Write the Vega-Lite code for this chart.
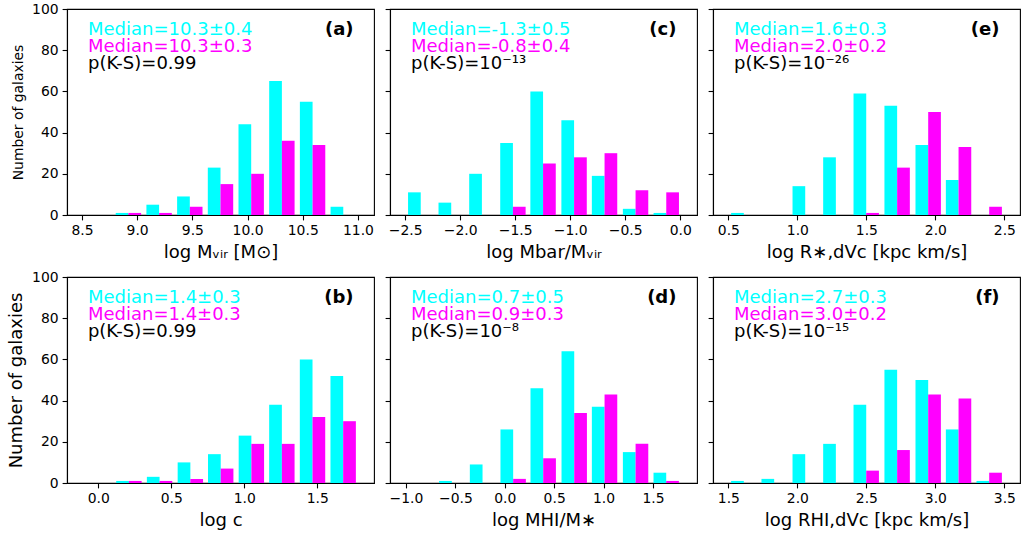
{
"$schema": "https://vega.github.io/schema/vega-lite/v6.json",
"padding": {"left": 7, "top": 1, "right": 0, "bottom": 0},
"background": "white",
"datasets": {
"bars": [
{"panel":"a","g":"A","center":8.643,"n":0},{"panel":"a","g":"A","center":8.921,"n":1},{"panel":"a","g":"A","center":9.199,"n":5},{"panel":"a","g":"A","center":9.477,"n":9},{"panel":"a","g":"A","center":9.755,"n":23},{"panel":"a","g":"A","center":10.033,"n":44},{"panel":"a","g":"A","center":10.311,"n":65},{"panel":"a","g":"A","center":10.589,"n":55},{"panel":"a","g":"A","center":10.867,"n":4},
{"panel":"a","g":"B","center":8.643,"n":0},{"panel":"a","g":"B","center":8.921,"n":1},{"panel":"a","g":"B","center":9.199,"n":1},{"panel":"a","g":"B","center":9.477,"n":4},{"panel":"a","g":"B","center":9.755,"n":15},{"panel":"a","g":"B","center":10.033,"n":20},{"panel":"a","g":"B","center":10.311,"n":36},{"panel":"a","g":"B","center":10.589,"n":34},{"panel":"a","g":"B","center":10.867,"n":0},
{"panel":"c","g":"A","center":-2.359,"n":11},{"panel":"c","g":"A","center":-2.082,"n":6},{"panel":"c","g":"A","center":-1.803,"n":20},{"panel":"c","g":"A","center":-1.521,"n":35},{"panel":"c","g":"A","center":-1.247,"n":60},{"panel":"c","g":"A","center":-0.965,"n":46},{"panel":"c","g":"A","center":-0.688,"n":19},{"panel":"c","g":"A","center":-0.406,"n":3},{"panel":"c","g":"A","center":-0.127,"n":1},
{"panel":"c","g":"B","center":-2.359,"n":0},{"panel":"c","g":"B","center":-2.082,"n":0},{"panel":"c","g":"B","center":-1.803,"n":0},{"panel":"c","g":"B","center":-1.521,"n":4},{"panel":"c","g":"B","center":-1.247,"n":25},{"panel":"c","g":"B","center":-0.965,"n":28},{"panel":"c","g":"B","center":-0.688,"n":30},{"panel":"c","g":"B","center":-0.406,"n":12},{"panel":"c","g":"B","center":-0.127,"n":11},
{"panel":"e","g":"A","center":0.612,"n":1},{"panel":"e","g":"A","center":0.832,"n":0},{"panel":"e","g":"A","center":1.057,"n":14},{"panel":"e","g":"A","center":1.279,"n":28},{"panel":"e","g":"A","center":1.499,"n":59},{"panel":"e","g":"A","center":1.723,"n":53},{"panel":"e","g":"A","center":1.948,"n":34},{"panel":"e","g":"A","center":2.168,"n":17},{"panel":"e","g":"A","center":2.39,"n":0},
{"panel":"e","g":"B","center":0.612,"n":0},{"panel":"e","g":"B","center":0.832,"n":0},{"panel":"e","g":"B","center":1.057,"n":0},{"panel":"e","g":"B","center":1.279,"n":0},{"panel":"e","g":"B","center":1.499,"n":1},{"panel":"e","g":"B","center":1.723,"n":23},{"panel":"e","g":"B","center":1.948,"n":50},{"panel":"e","g":"B","center":2.168,"n":33},{"panel":"e","g":"B","center":2.39,"n":4},
{"panel":"b","g":"A","center":-0.004,"n":0},{"panel":"b","g":"A","center":0.21,"n":1},{"panel":"b","g":"A","center":0.42,"n":3},{"panel":"b","g":"A","center":0.631,"n":10},{"panel":"b","g":"A","center":0.839,"n":14},{"panel":"b","g":"A","center":1.049,"n":23},{"panel":"b","g":"A","center":1.258,"n":38},{"panel":"b","g":"A","center":1.468,"n":60},{"panel":"b","g":"A","center":1.678,"n":52},
{"panel":"b","g":"B","center":-0.004,"n":0},{"panel":"b","g":"B","center":0.21,"n":1},{"panel":"b","g":"B","center":0.42,"n":1},{"panel":"b","g":"B","center":0.631,"n":2},{"panel":"b","g":"B","center":0.839,"n":7},{"panel":"b","g":"B","center":1.049,"n":19},{"panel":"b","g":"B","center":1.258,"n":19},{"panel":"b","g":"B","center":1.468,"n":32},{"panel":"b","g":"B","center":1.678,"n":30},
{"panel":"d","g":"A","center":-0.85,"n":0},{"panel":"d","g":"A","center":-0.536,"n":1},{"panel":"d","g":"A","center":-0.225,"n":9},{"panel":"d","g":"A","center":0.085,"n":26},{"panel":"d","g":"A","center":0.389,"n":46},{"panel":"d","g":"A","center":0.703,"n":64},{"panel":"d","g":"A","center":1.01,"n":37},{"panel":"d","g":"A","center":1.324,"n":15},{"panel":"d","g":"A","center":1.634,"n":5},
{"panel":"d","g":"B","center":-0.85,"n":0},{"panel":"d","g":"B","center":-0.536,"n":0},{"panel":"d","g":"B","center":-0.225,"n":0},{"panel":"d","g":"B","center":0.085,"n":2},{"panel":"d","g":"B","center":0.389,"n":12},{"panel":"d","g":"B","center":0.703,"n":34},{"panel":"d","g":"B","center":1.01,"n":43},{"panel":"d","g":"B","center":1.324,"n":19},{"panel":"d","g":"B","center":1.634,"n":1},
{"panel":"f","g":"A","center":1.612,"n":1},{"panel":"f","g":"A","center":1.832,"n":2},{"panel":"f","g":"A","center":2.057,"n":14},{"panel":"f","g":"A","center":2.279,"n":19},{"panel":"f","g":"A","center":2.499,"n":38},{"panel":"f","g":"A","center":2.723,"n":55},{"panel":"f","g":"A","center":2.948,"n":50},{"panel":"f","g":"A","center":3.168,"n":26},{"panel":"f","g":"A","center":3.39,"n":1},
{"panel":"f","g":"B","center":1.612,"n":0},{"panel":"f","g":"B","center":1.832,"n":0},{"panel":"f","g":"B","center":2.057,"n":0},{"panel":"f","g":"B","center":2.279,"n":0},{"panel":"f","g":"B","center":2.499,"n":6},{"panel":"f","g":"B","center":2.723,"n":16},{"panel":"f","g":"B","center":2.948,"n":43},{"panel":"f","g":"B","center":3.168,"n":41},{"panel":"f","g":"B","center":3.39,"n":5}
],
"notes": [
{"panel":"a","line":1,"text":"Median=10.3±0.4"},{"panel":"a","line":2,"text":"Median=10.3±0.3"},{"panel":"a","line":3,"text":"p(K-S)=0.99"},{"panel":"a","line":4,"text":"(a)"},
{"panel":"c","line":1,"text":"Median=-1.3±0.5"},{"panel":"c","line":2,"text":"Median=-0.8±0.4"},{"panel":"c","line":3,"text":"p(K-S)=10⁻¹³"},{"panel":"c","line":4,"text":"(c)"},
{"panel":"e","line":1,"text":"Median=1.6±0.3"},{"panel":"e","line":2,"text":"Median=2.0±0.2"},{"panel":"e","line":3,"text":"p(K-S)=10⁻²⁶"},{"panel":"e","line":4,"text":"(e)"},
{"panel":"b","line":1,"text":"Median=1.4±0.3"},{"panel":"b","line":2,"text":"Median=1.4±0.3"},{"panel":"b","line":3,"text":"p(K-S)=0.99"},{"panel":"b","line":4,"text":"(b)"},
{"panel":"d","line":1,"text":"Median=0.7±0.5"},{"panel":"d","line":2,"text":"Median=0.9±0.3"},{"panel":"d","line":3,"text":"p(K-S)=10⁻⁸"},{"panel":"d","line":4,"text":"(d)"},
{"panel":"f","line":1,"text":"Median=2.7±0.3"},{"panel":"f","line":2,"text":"Median=3.0±0.2"},{"panel":"f","line":3,"text":"p(K-S)=10⁻¹⁵"},{"panel":"f","line":4,"text":"(f)"}
]
},
"config": {
"view": {"stroke": "black", "strokeWidth": 1.1},
"font": "DejaVu Sans",
"axis": {"grid": false, "domainColor": "black", "domainWidth": 1.1, "tickColor": "black", "tickWidth": 1.1, "tickSize": 4.9, "labelColor": "black", "titleColor": "black", "labelFont": "DejaVu Sans", "titleFont": "DejaVu Sans", "labelFontSize": 13.9, "titleFontSize": 18, "titleFontWeight": "normal", "labelPadding": 4, "labelFlush": false, "labelOverlap": false},
"axisX": {"titlePadding": 6},
"axisY": {"titlePadding": 6},
"text": {"font": "DejaVu Sans", "fontSize": 18}
},
"columns": 3,
"spacing": {"row": 62, "column": 16},
"bounds": "flush",
"concat": [
{"width": 307, "height": 206, "layer": [
{"data": {"name": "bars"}, "transform": [{"filter": "datum.panel == 'a' && datum.g == 'A'"}], "mark": {"type": "bar", "width": 12.7, "xOffset": -6.35, "color": "#00ffff"},
 "encoding": {"x": {"field": "center", "type": "quantitative", "scale": {"domain": [8.41, 11.10], "nice": false, "zero": false}, "axis": {"values": [8.5, 9, 9.5, 10, 10.5, 11], "format": ".1f", "title": "log Mᵥᵢᵣ [M⊙]"}},
  "y": {"field": "n", "type": "quantitative", "scale": {"domain": [0, 100], "nice": false}, "axis": {"values": [0, 20, 40, 60, 80, 100], "title": "Number of galaxies", "titleFontSize": 13.9}}}},
{"data": {"name": "bars"}, "transform": [{"filter": "datum.panel == 'a' && datum.g == 'B'"}], "mark": {"type": "bar", "width": 12.7, "xOffset": 6.35, "color": "#ff00ff"},
 "encoding": {"x": {"field": "center", "type": "quantitative"}, "y": {"field": "n", "type": "quantitative"}}},
{"data": {"name": "notes"}, "transform": [{"filter": "datum.panel == 'a' && datum.line == 1"}], "mark": {"type": "text", "align": "left", "baseline": "alphabetic", "color": "#00ffff"}, "encoding": {"x": {"datum": 8.555, "type": "quantitative"}, "y": {"datum": 87.2, "type": "quantitative"}, "text": {"field": "text"}}},
{"data": {"name": "notes"}, "transform": [{"filter": "datum.panel == 'a' && datum.line == 2"}], "mark": {"type": "text", "align": "left", "baseline": "alphabetic", "color": "#ff00ff"}, "encoding": {"x": {"datum": 8.555, "type": "quantitative"}, "y": {"datum": 79.3, "type": "quantitative"}, "text": {"field": "text"}}},
{"data": {"name": "notes"}, "transform": [{"filter": "datum.panel == 'a' && datum.line == 3"}], "mark": {"type": "text", "align": "left", "baseline": "alphabetic", "color": "black"}, "encoding": {"x": {"datum": 8.555, "type": "quantitative"}, "y": {"datum": 70.7, "type": "quantitative"}, "text": {"field": "text"}}},
{"data": {"name": "notes"}, "transform": [{"filter": "datum.panel == 'a' && datum.line == 4"}], "mark": {"type": "text", "align": "right", "baseline": "alphabetic", "color": "black", "fontWeight": "bold"}, "encoding": {"x": {"datum": 10.96, "type": "quantitative"}, "y": {"datum": 87.2, "type": "quantitative"}, "text": {"field": "text"}}}
]},
{"width": 307, "height": 206, "layer": [
{"data": {"name": "bars"}, "transform": [{"filter": "datum.panel == 'c' && datum.g == 'A'"}], "mark": {"type": "bar", "width": 12.7, "xOffset": -6.35, "color": "#00ffff"},
 "encoding": {"x": {"field": "center", "type": "quantitative", "scale": {"domain": [-2.593, 0.107], "nice": false, "zero": false}, "axis": {"values": [-2.5, -2, -1.5, -1, -0.5, 0], "format": ".1f", "title": "log Mbar/Mᵥᵢᵣ"}},
  "y": {"field": "n", "type": "quantitative", "scale": {"domain": [0, 100], "nice": false}, "axis": {"values": [0, 20, 40, 60, 80, 100], "labels": false, "title": null}}}},
{"data": {"name": "bars"}, "transform": [{"filter": "datum.panel == 'c' && datum.g == 'B'"}], "mark": {"type": "bar", "width": 12.7, "xOffset": 6.35, "color": "#ff00ff"},
 "encoding": {"x": {"field": "center", "type": "quantitative"}, "y": {"field": "n", "type": "quantitative"}}},
{"data": {"name": "notes"}, "transform": [{"filter": "datum.panel == 'c' && datum.line == 1"}], "mark": {"type": "text", "align": "left", "baseline": "alphabetic", "color": "#00ffff"}, "encoding": {"x": {"datum": -2.448, "type": "quantitative"}, "y": {"datum": 87.2, "type": "quantitative"}, "text": {"field": "text"}}},
{"data": {"name": "notes"}, "transform": [{"filter": "datum.panel == 'c' && datum.line == 2"}], "mark": {"type": "text", "align": "left", "baseline": "alphabetic", "color": "#ff00ff"}, "encoding": {"x": {"datum": -2.448, "type": "quantitative"}, "y": {"datum": 79.3, "type": "quantitative"}, "text": {"field": "text"}}},
{"data": {"name": "notes"}, "transform": [{"filter": "datum.panel == 'c' && datum.line == 3"}], "mark": {"type": "text", "align": "left", "baseline": "alphabetic", "color": "black"}, "encoding": {"x": {"datum": -2.448, "type": "quantitative"}, "y": {"datum": 70.7, "type": "quantitative"}, "text": {"field": "text"}}},
{"data": {"name": "notes"}, "transform": [{"filter": "datum.panel == 'c' && datum.line == 4"}], "mark": {"type": "text", "align": "right", "baseline": "alphabetic", "color": "black", "fontWeight": "bold"}, "encoding": {"x": {"datum": -0.034, "type": "quantitative"}, "y": {"datum": 87.2, "type": "quantitative"}, "text": {"field": "text"}}}
]},
{"width": 307, "height": 206, "layer": [
{"data": {"name": "bars"}, "transform": [{"filter": "datum.panel == 'e' && datum.g == 'A'"}], "mark": {"type": "bar", "width": 12.7, "xOffset": -6.35, "color": "#00ffff"},
 "encoding": {"x": {"field": "center", "type": "quantitative", "scale": {"domain": [0.425, 2.577], "nice": false, "zero": false}, "axis": {"values": [0.5, 1, 1.5, 2, 2.5], "format": ".1f", "title": "log R∗,dVc [kpc km/s]"}},
  "y": {"field": "n", "type": "quantitative", "scale": {"domain": [0, 100], "nice": false}, "axis": {"values": [0, 20, 40, 60, 80, 100], "labels": false, "title": null}}}},
{"data": {"name": "bars"}, "transform": [{"filter": "datum.panel == 'e' && datum.g == 'B'"}], "mark": {"type": "bar", "width": 12.7, "xOffset": 6.35, "color": "#ff00ff"},
 "encoding": {"x": {"field": "center", "type": "quantitative"}, "y": {"field": "n", "type": "quantitative"}}},
{"data": {"name": "notes"}, "transform": [{"filter": "datum.panel == 'e' && datum.line == 1"}], "mark": {"type": "text", "align": "left", "baseline": "alphabetic", "color": "#00ffff"}, "encoding": {"x": {"datum": 0.541, "type": "quantitative"}, "y": {"datum": 87.2, "type": "quantitative"}, "text": {"field": "text"}}},
{"data": {"name": "notes"}, "transform": [{"filter": "datum.panel == 'e' && datum.line == 2"}], "mark": {"type": "text", "align": "left", "baseline": "alphabetic", "color": "#ff00ff"}, "encoding": {"x": {"datum": 0.541, "type": "quantitative"}, "y": {"datum": 79.3, "type": "quantitative"}, "text": {"field": "text"}}},
{"data": {"name": "notes"}, "transform": [{"filter": "datum.panel == 'e' && datum.line == 3"}], "mark": {"type": "text", "align": "left", "baseline": "alphabetic", "color": "black"}, "encoding": {"x": {"datum": 0.541, "type": "quantitative"}, "y": {"datum": 70.7, "type": "quantitative"}, "text": {"field": "text"}}},
{"data": {"name": "notes"}, "transform": [{"filter": "datum.panel == 'e' && datum.line == 4"}], "mark": {"type": "text", "align": "right", "baseline": "alphabetic", "color": "black", "fontWeight": "bold"}, "encoding": {"x": {"datum": 2.465, "type": "quantitative"}, "y": {"datum": 87.2, "type": "quantitative"}, "text": {"field": "text"}}}
]},
{"width": 307, "height": 206, "layer": [
{"data": {"name": "bars"}, "transform": [{"filter": "datum.panel == 'b' && datum.g == 'A'"}], "mark": {"type": "bar", "width": 12.7, "xOffset": -6.35, "color": "#00ffff"},
 "encoding": {"x": {"field": "center", "type": "quantitative", "scale": {"domain": [-0.18, 1.855], "nice": false, "zero": false}, "axis": {"values": [0, 0.5, 1, 1.5], "format": ".1f", "title": "log c"}},
  "y": {"field": "n", "type": "quantitative", "scale": {"domain": [0, 100], "nice": false}, "axis": {"values": [0, 20, 40, 60, 80, 100], "title": "Number of galaxies"}}}},
{"data": {"name": "bars"}, "transform": [{"filter": "datum.panel == 'b' && datum.g == 'B'"}], "mark": {"type": "bar", "width": 12.7, "xOffset": 6.35, "color": "#ff00ff"},
 "encoding": {"x": {"field": "center", "type": "quantitative"}, "y": {"field": "n", "type": "quantitative"}}},
{"data": {"name": "notes"}, "transform": [{"filter": "datum.panel == 'b' && datum.line == 1"}], "mark": {"type": "text", "align": "left", "baseline": "alphabetic", "color": "#00ffff"}, "encoding": {"x": {"datum": -0.071, "type": "quantitative"}, "y": {"datum": 87.2, "type": "quantitative"}, "text": {"field": "text"}}},
{"data": {"name": "notes"}, "transform": [{"filter": "datum.panel == 'b' && datum.line == 2"}], "mark": {"type": "text", "align": "left", "baseline": "alphabetic", "color": "#ff00ff"}, "encoding": {"x": {"datum": -0.071, "type": "quantitative"}, "y": {"datum": 79.3, "type": "quantitative"}, "text": {"field": "text"}}},
{"data": {"name": "notes"}, "transform": [{"filter": "datum.panel == 'b' && datum.line == 3"}], "mark": {"type": "text", "align": "left", "baseline": "alphabetic", "color": "black"}, "encoding": {"x": {"datum": -0.071, "type": "quantitative"}, "y": {"datum": 70.7, "type": "quantitative"}, "text": {"field": "text"}}},
{"data": {"name": "notes"}, "transform": [{"filter": "datum.panel == 'b' && datum.line == 4"}], "mark": {"type": "text", "align": "right", "baseline": "alphabetic", "color": "black", "fontWeight": "bold"}, "encoding": {"x": {"datum": 1.749, "type": "quantitative"}, "y": {"datum": 87.2, "type": "quantitative"}, "text": {"field": "text"}}}
]},
{"width": 307, "height": 206, "layer": [
{"data": {"name": "bars"}, "transform": [{"filter": "datum.panel == 'd' && datum.g == 'A'"}], "mark": {"type": "bar", "width": 12.7, "xOffset": -6.35, "color": "#00ffff"},
 "encoding": {"x": {"field": "center", "type": "quantitative", "scale": {"domain": [-1.111, 1.895], "nice": false, "zero": false}, "axis": {"values": [-1, -0.5, 0, 0.5, 1, 1.5], "format": ".1f", "title": "log MHI/M∗"}},
  "y": {"field": "n", "type": "quantitative", "scale": {"domain": [0, 100], "nice": false}, "axis": {"values": [0, 20, 40, 60, 80, 100], "labels": false, "title": null}}}},
{"data": {"name": "bars"}, "transform": [{"filter": "datum.panel == 'd' && datum.g == 'B'"}], "mark": {"type": "bar", "width": 12.7, "xOffset": 6.35, "color": "#ff00ff"},
 "encoding": {"x": {"field": "center", "type": "quantitative"}, "y": {"field": "n", "type": "quantitative"}}},
{"data": {"name": "notes"}, "transform": [{"filter": "datum.panel == 'd' && datum.line == 1"}], "mark": {"type": "text", "align": "left", "baseline": "alphabetic", "color": "#00ffff"}, "encoding": {"x": {"datum": -0.949, "type": "quantitative"}, "y": {"datum": 87.2, "type": "quantitative"}, "text": {"field": "text"}}},
{"data": {"name": "notes"}, "transform": [{"filter": "datum.panel == 'd' && datum.line == 2"}], "mark": {"type": "text", "align": "left", "baseline": "alphabetic", "color": "#ff00ff"}, "encoding": {"x": {"datum": -0.949, "type": "quantitative"}, "y": {"datum": 79.3, "type": "quantitative"}, "text": {"field": "text"}}},
{"data": {"name": "notes"}, "transform": [{"filter": "datum.panel == 'd' && datum.line == 3"}], "mark": {"type": "text", "align": "left", "baseline": "alphabetic", "color": "black"}, "encoding": {"x": {"datum": -0.949, "type": "quantitative"}, "y": {"datum": 70.7, "type": "quantitative"}, "text": {"field": "text"}}},
{"data": {"name": "notes"}, "transform": [{"filter": "datum.panel == 'd' && datum.line == 4"}], "mark": {"type": "text", "align": "right", "baseline": "alphabetic", "color": "black", "fontWeight": "bold"}, "encoding": {"x": {"datum": 1.738, "type": "quantitative"}, "y": {"datum": 87.2, "type": "quantitative"}, "text": {"field": "text"}}}
]},
{"width": 307, "height": 206, "layer": [
{"data": {"name": "bars"}, "transform": [{"filter": "datum.panel == 'f' && datum.g == 'A'"}], "mark": {"type": "bar", "width": 12.7, "xOffset": -6.35, "color": "#00ffff"},
 "encoding": {"x": {"field": "center", "type": "quantitative", "scale": {"domain": [1.425, 3.577], "nice": false, "zero": false}, "axis": {"values": [1.5, 2, 2.5, 3, 3.5], "format": ".1f", "title": "log RHI,dVc [kpc km/s]"}},
  "y": {"field": "n", "type": "quantitative", "scale": {"domain": [0, 100], "nice": false}, "axis": {"values": [0, 20, 40, 60, 80, 100], "labels": false, "title": null}}}},
{"data": {"name": "bars"}, "transform": [{"filter": "datum.panel == 'f' && datum.g == 'B'"}], "mark": {"type": "bar", "width": 12.7, "xOffset": 6.35, "color": "#ff00ff"},
 "encoding": {"x": {"field": "center", "type": "quantitative"}, "y": {"field": "n", "type": "quantitative"}}},
{"data": {"name": "notes"}, "transform": [{"filter": "datum.panel == 'f' && datum.line == 1"}], "mark": {"type": "text", "align": "left", "baseline": "alphabetic", "color": "#00ffff"}, "encoding": {"x": {"datum": 1.541, "type": "quantitative"}, "y": {"datum": 87.2, "type": "quantitative"}, "text": {"field": "text"}}},
{"data": {"name": "notes"}, "transform": [{"filter": "datum.panel == 'f' && datum.line == 2"}], "mark": {"type": "text", "align": "left", "baseline": "alphabetic", "color": "#ff00ff"}, "encoding": {"x": {"datum": 1.541, "type": "quantitative"}, "y": {"datum": 79.3, "type": "quantitative"}, "text": {"field": "text"}}},
{"data": {"name": "notes"}, "transform": [{"filter": "datum.panel == 'f' && datum.line == 3"}], "mark": {"type": "text", "align": "left", "baseline": "alphabetic", "color": "black"}, "encoding": {"x": {"datum": 1.541, "type": "quantitative"}, "y": {"datum": 70.7, "type": "quantitative"}, "text": {"field": "text"}}},
{"data": {"name": "notes"}, "transform": [{"filter": "datum.panel == 'f' && datum.line == 4"}], "mark": {"type": "text", "align": "right", "baseline": "alphabetic", "color": "black", "fontWeight": "bold"}, "encoding": {"x": {"datum": 3.465, "type": "quantitative"}, "y": {"datum": 87.2, "type": "quantitative"}, "text": {"field": "text"}}}
]}
]
}
